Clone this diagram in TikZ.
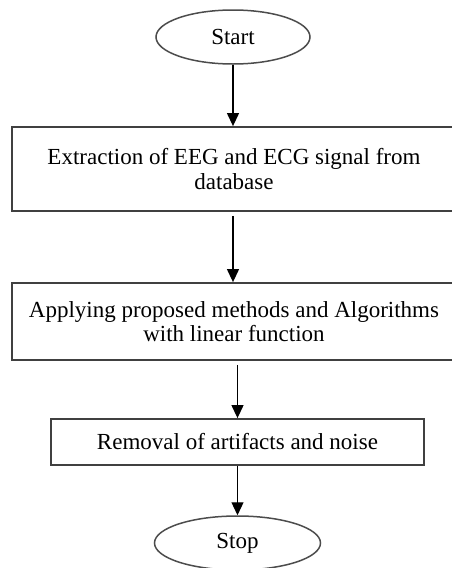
\documentclass[tikz,border=0pt]{standalone}
\usepackage{fontspec}
\setmainfont{Liberation Serif}
\usetikzlibrary{shapes.geometric,arrows.meta}
\begin{document}
\begin{tikzpicture}[x=1pt,y=-1pt,
  every node/.style={font=\fontsize{23}{24.5}\selectfont, inner sep=0pt},
  term/.style={ellipse, draw=black!70, line width=1.5pt},
  procbox/.style={rectangle, draw=black!75, line width=1.8pt, align=center},
  arr/.style={line width=1.2pt, -{Triangle[length=13pt,width=12pt]}}]
\useasboundingbox (0,0) rectangle (451,568);
\node[term, minimum width=154pt, minimum height=54pt] (start) at (233,37) {Start};
\node[procbox, minimum width=444pt, minimum height=84pt] (box1) at (234,169)
  {Extraction of EEG and ECG signal from\\database};
\node[procbox, minimum width=444pt, minimum height=77pt] (box2) at (234,321.5)
  {Applying proposed methods and Algorithms\\with linear function};
\node[procbox, minimum width=373pt, minimum height=46pt] (box3) at (237.5,442)
  {Removal of artifacts and noise};
\node[term, minimum width=166pt, minimum height=54pt] (stop) at (237.5,543) {Stop};
\draw[arr] (start.south) -- (start.south |- box1.north);
\draw[arr, shorten <=4pt] (box1.south -| start.south) -- (box2.north -| start.south);
\draw[arr, shorten <=4pt] (box2.south -| box3.north) -- (box3.north);
\draw[arr] (box3.south) -- (stop.north);
\end{tikzpicture}
\end{document}
